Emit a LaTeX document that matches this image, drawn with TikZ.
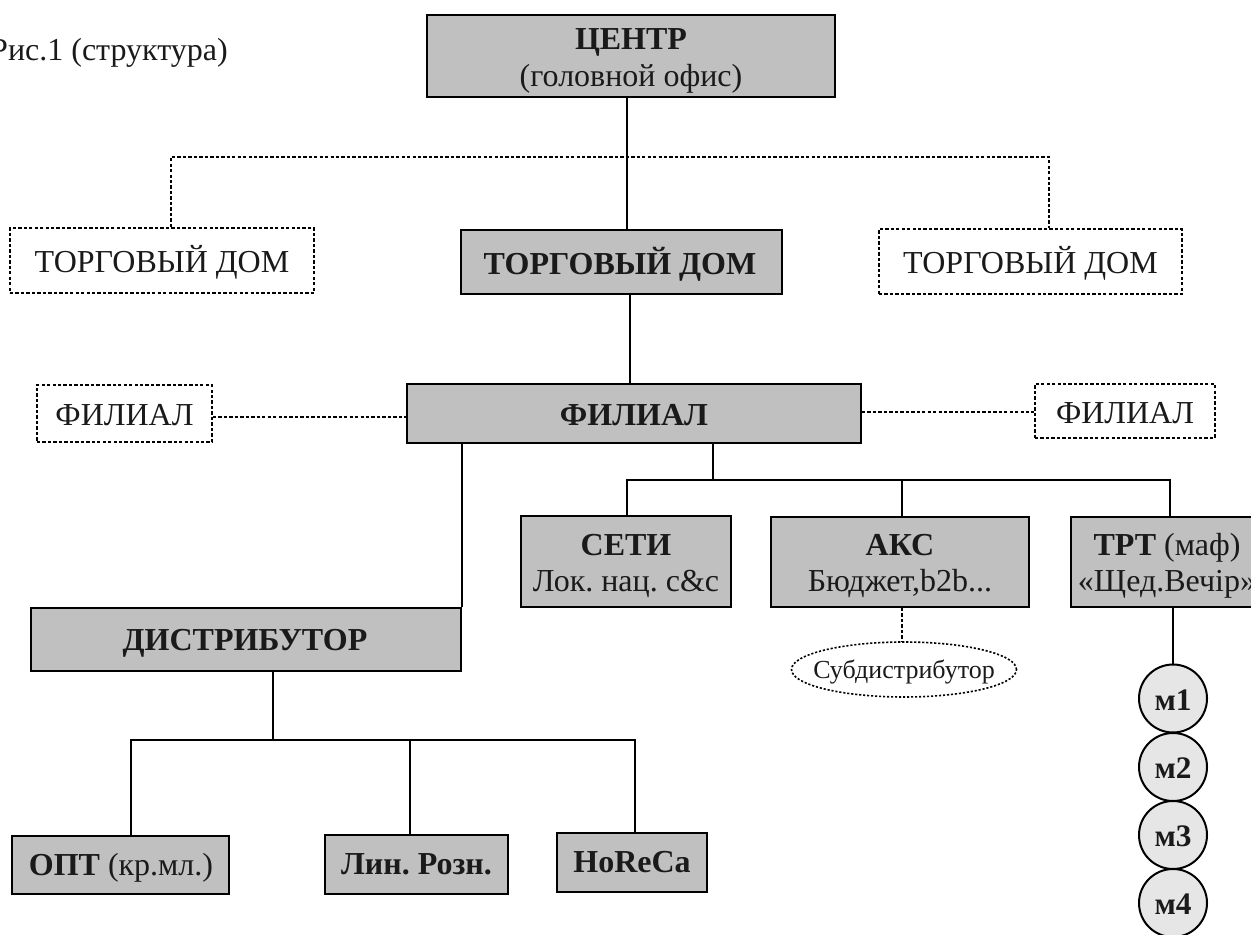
\documentclass[tikz,border=0pt]{standalone}
\usepackage{fontspec}
\setmainfont{Liberation Serif}
\usetikzlibrary{fit,shapes.geometric}
\definecolor{boxgray}{HTML}{C0C0C0}
\definecolor{circgray}{HTML}{E6E6E6}
\definecolor{ink}{HTML}{1A1A1A}
\frenchspacing
\tikzset{
  solidbox/.style={draw, line width=1.5pt, fill=boxgray, inner sep=0pt},
  dotbox/.style={draw, line width=1.4pt, dash pattern=on 2.5pt off 1.6pt, inner sep=0pt},
  link/.style={line width=1.5pt},
  dotlink/.style={line width=1.4pt, dash pattern=on 2.5pt off 1.6pt},
  txt/.style={anchor=base, inner sep=0pt, text=ink, font={\fontsize{24}{28}\selectfont\frenchspacing}},
  btxt/.style={txt, font={\fontsize{24}{28}\selectfont\frenchspacing\bfseries}},
  mtxt/.style={txt, font={\fontsize{23.5}{26}\selectfont\bfseries}},
  mcirc/.style={circle, draw, line width=1.5pt, fill=circgray, minimum size=51pt, inner sep=0pt},
}
\begin{document}
\begin{tikzpicture}[x=0.75pt,y=-0.75pt]
\useasboundingbox (0,0) rectangle (1251,934);

% title
\node[txt, anchor=base east] (title) at (228,61) {Рис.1 (структура)};

% centre
\node[solidbox, fit={(427,15)(835,97)}] (ctr) {};
\node[btxt] (ctrt1) at (631,49.5) {ЦЕНТР};
\node[txt] (ctrt2) at (631,87) {(головной офис)};

% trading houses
\node[dotbox, fit={(10,228)(314,293)}] (tdl) {};
\node[txt] (tdlt) at (162,272) {ТОРГОВЫЙ ДОМ};
\node[solidbox, fit={(461,230)(782,294)}] (td) {};
\node[btxt] (tdt) at (620,274) {ТОРГОВЫЙ ДОМ};
\node[dotbox, fit={(879,229)(1182,294)}] (tdr) {};
\node[txt] (tdrt) at (1030.5,273) {ТОРГОВЫЙ ДОМ};

% branches
\node[solidbox, fit={(407,384)(861,443)}] (fil) {};
\node[btxt] (filt) at (634,425) {ФИЛИАЛ};
\node[dotbox, fit={(37,385)(212,442)}] (fill) {};
\node[txt] (fillt) at (124.5,425) {ФИЛИАЛ};
\node[dotbox, fit={(1035,384)(1215,438)}] (filr) {};
\node[txt] (filrt) at (1125,423) {ФИЛИАЛ};

% distributor
\node[solidbox, fit={(31,608)(461,671)}] (dist) {};
\node[btxt] (distt) at (245,650) {ДИСТРИБУТОР};

% channels
\node[solidbox, fit={(521,516)(731,607)}] (seti) {};
\node[btxt] (setit1) at (626,555) {СЕТИ};
\node[txt] (setit2) at (626,591) {Лок. нац. c\&c};
\node[solidbox, fit={(771,517)(1029,607)}] (aks) {};
\node[btxt] (akst1) at (900,555) {АКС};
\node[txt] (akst2) at (900,591) {Бюджет,b2b...};
\node[solidbox, fit={(1071,517)(1269,607)}] (trt) {};
\node[txt] (trtt1) at (1167,555) {\textbf{ТРТ} (маф)};
\node[txt] (trtt2) at (1167,591) {«Щед.Вечір»};

% subdistributor
\node[ellipse, draw, line width=1.2pt, dash pattern=on 1.6pt off 1.4pt, minimum width=168.75pt, minimum height=41.25pt, inner sep=0pt] (sub) at (904,669.5) {};
\node[txt, font={\fontsize{19.5}{22}\selectfont}] (subt) at (904,678) {Субдистрибутор};

% circles
\node[mcirc] (m1) at (1173,698.5) {};
\node[mcirc] (m2) at (1173,767) {};
\node[mcirc] (m3) at (1173,835) {};
\node[mcirc] (m4) at (1173,903) {};
\node[mtxt] (m1t) at (1173,710) {м1};
\node[mtxt] (m2t) at (1173,778.5) {м2};
\node[mtxt] (m3t) at (1173,846.5) {м3};
\node[mtxt] (m4t) at (1173,914.5) {м4};

% bottom
\node[solidbox, fit={(12,836)(229,894)}] (opt) {};
\node[txt] (optt) at (121,875) {\textbf{ОПТ} (кр.мл.)};
\node[solidbox, fit={(325,835)(508,894)}] (lin) {};
\node[btxt] (lint) at (416.5,874) {Лин. Розн.};
\node[solidbox, fit={(557,833)(707,892)}] (hor) {};
\node[btxt] (hort) at (632,872) {HoReCa};

% connectors
\coordinate (c1) at (627,0);
\draw[link] (c1 |- ctr.south) -- (c1 |- td.north);
\coordinate (dl) at (171,157);
\coordinate (dr) at (1049,157);
\draw[dotlink] (dl |- tdl.north) -- (dl) -- (dr) -- (dr |- tdr.north);
\coordinate (c2) at (630,0);
\draw[link] (c2 |- td.south) -- (c2 |- fil.north);
\coordinate (fl) at (0,417);
\coordinate (fr) at (0,412);
\draw[dotlink] (fl -| fill.east) -- (fl -| fil.west);
\draw[dotlink] (fr -| fil.east) -- (fr -| filr.west);
\draw[link] (dist.north east |- fil.south) -- (dist.north east);
\coordinate (b1) at (713,480);
\draw[link] (b1 |- fil.south) -- (b1);
\coordinate (s1) at (627,480);
\coordinate (s2) at (902,480);
\coordinate (s3) at (1170,480);
\draw[link] (s1 |- seti.north) -- (s1) -- (s3) -- (s3 |- trt.north);
\draw[link] (s2) -- (s2 |- aks.north);
\draw[dotlink] (s2 |- aks.south) -- (s2 |- sub.north);
\draw[link] (m1.north |- trt.south) -- (m1.north);
\coordinate (b2) at (273,740);
\draw[link] (b2 |- dist.south) -- (b2);
\coordinate (o1) at (131,740);
\coordinate (o2) at (410,740);
\coordinate (o3) at (635,740);
\draw[link] (o1 |- opt.north) -- (o1) -- (o3) -- (o3 |- hor.north);
\draw[link] (o2) -- (o2 |- lin.north);
\end{tikzpicture}
\end{document}
